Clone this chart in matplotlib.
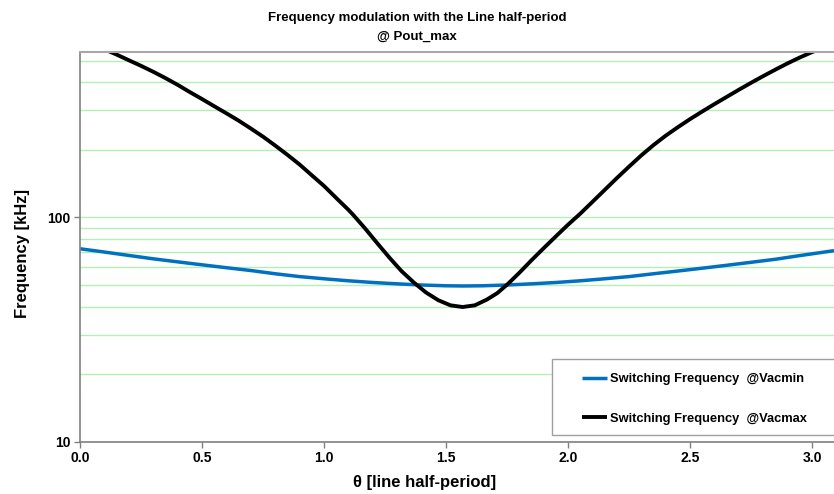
import numpy as np
import matplotlib
matplotlib.use('Agg')
import matplotlib.pyplot as plt
from matplotlib.patches import Rectangle

plt.rcParams['font.family'] = ['Liberation Sans', 'DejaVu Sans']

# values (kHz vs theta)
theta_vacmin = [0.0, 0.1, 0.2, 0.3, 0.4, 0.5, 0.6, 0.7, 0.8, 0.9, 1.0, 1.1, 1.2, 1.3, 1.4, 1.5,
                1.571, 1.65, 1.75, 1.85, 1.95, 2.05, 2.15, 2.25, 2.35, 2.45, 2.55, 2.65,
                2.75, 2.85, 2.95, 3.09]
freq_vacmin = [72.4, 70.0, 67.6, 65.3, 63.3, 61.4, 59.6, 57.9, 56.0, 54.4, 53.2, 52.1, 51.2, 50.5,
               49.9, 49.5, 49.4, 49.5, 49.9, 50.5, 51.2, 52.1, 53.2, 54.4, 56.0, 57.6, 59.3,
               61.1, 63.0, 65.0, 67.5, 71.0]

theta_vacmax = [0.0, 0.05, 0.1, 0.15, 0.2, 0.25, 0.3, 0.35, 0.4, 0.45, 0.5, 0.55, 0.6, 0.65,
                0.7, 0.75, 0.8, 0.85, 0.9, 0.95, 1.0, 1.05, 1.1, 1.118, 1.168, 1.218, 1.268,
                1.318, 1.368, 1.418, 1.468, 1.518, 1.568, 1.618, 1.668, 1.71, 1.754, 1.8,
                1.85, 1.9, 1.95, 2.0, 2.05, 2.1, 2.15, 2.2, 2.25, 2.3, 2.35, 2.4, 2.45, 2.5,
                2.55, 2.6, 2.65, 2.7, 2.75, 2.8, 2.85, 2.9, 2.95, 3.0, 3.05, 3.09]
freq_vacmax = [625, 593, 562, 532, 502, 474, 446, 418, 390, 362, 337, 313, 291, 270,
               249, 229, 209, 190, 172, 154, 138, 122, 108, 103, 89.3, 76.7, 66.1,
               57.5, 51.2, 46.2, 42.7, 40.5, 39.8, 40.5, 43.0, 45.9, 50.5, 56.5,
               64.3, 72.8, 82.2, 92.7, 103.8, 117.2, 132.4, 149.6, 168.3, 188.8, 209.9, 231.2,
               252.3, 274.2, 296.5, 319.9, 344.4, 370.7, 398.1, 426.6, 456.0, 486.4, 516.4,
               545.8, 572.8, 594.3]

xticks = [0.0, 0.5, 1.0, 1.5, 2.0, 2.5, 3.0]
ymajor = [10, 100]
yminor = [20, 30, 40, 50, 60, 70, 80, 90, 200, 300, 400, 500]

W, H = 834, 494
fig = plt.figure(figsize=(W / 100, H / 100), dpi=100)
ax = fig.add_axes([80 / W, 1 - 441.5 / H, 1 - 80 / W, (441.5 - 51.7) / H])

ax.set_yscale('log')
ax.set_xlim(0, 3.09)
ax.set_ylim(10, 548)

ax.plot(theta_vacmin, freq_vacmin, color='#0070C0', lw=2.5,
        solid_joinstyle='round', solid_capstyle='butt', label='Switching Frequency  @Vacmin')
ax.plot(theta_vacmax, freq_vacmax, color='black', lw=2.8,
        solid_joinstyle='round', solid_capstyle='butt', label='Switching Frequency  @Vacmax')

ax.set_xticks(xticks)
ax.set_xticklabels(['%.1f' % t for t in xticks])
ax.set_yticks(ymajor)
ax.set_yticklabels([str(v) for v in ymajor])
ax.set_yticks(yminor, minor=True)
ax.set_yticklabels([], minor=True)
ax.tick_params(axis='y', which='minor', length=0)
ax.tick_params(which='major', direction='out', length=4, color='#808080', width=1,
               labelsize=10, pad=3)
for lab in ax.get_xticklabels() + ax.get_yticklabels():
    lab.set_fontweight('bold')

ax.grid(True, which='both', axis='y', color='#b4f0b4', lw=1)
ax.set_axisbelow(True)

for s in ['left', 'bottom']:
    ax.spines[s].set_color('#808080')
    ax.spines[s].set_linewidth(1.2)
ax.spines['top'].set_color('#a8a8a8')
ax.spines['top'].set_linewidth(1.5)
ax.spines['right'].set_visible(False)

fig.text(23 / W, 1 - 253 / H, 'Frequency [kHz]', rotation=90, ha='center', va='center',
         fontsize=12, fontweight='bold')
fig.text(425 / W, 1 - 482 / H, '\u03b8 [line half-period]', ha='center', va='center',
         fontsize=12, fontweight='bold')
fig.text(417 / W, 1 - 18 / H, 'Frequency modulation with the Line half-period',
         ha='center', va='center', fontsize=9.5, fontweight='bold')
fig.text(417 / W, 1 - 37 / H, '@ Pout_max',
         ha='center', va='center', fontsize=9.5, fontweight='bold')

# legend box runs off the right edge like in the reference
box = Rectangle((552 / W, 1 - 435 / H), 300 / W, 76 / H, transform=fig.transFigure,
                facecolor='white', edgecolor='#a0a0a0', lw=1, zorder=4, clip_on=False)
ax.add_patch(box)
leg = ax.legend(loc='upper left', bbox_to_anchor=(582 / W, 1 - 373 / H),
                bbox_transform=fig.transFigure, frameon=False, borderaxespad=0,
                borderpad=0, handlelength=1.95, handletextpad=0.2, labelspacing=2.15,
                prop={'size': 9.3, 'weight': 'bold'})
leg.set_zorder(5)

fig.savefig('out.png', dpi=100)
